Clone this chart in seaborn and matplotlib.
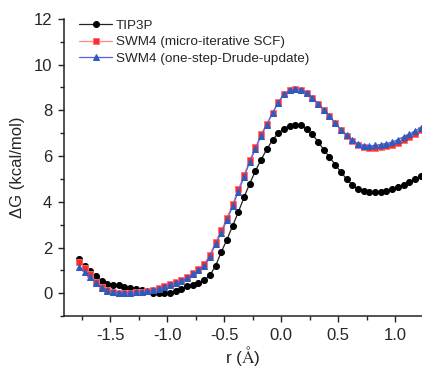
import numpy as np
import pandas as pd
import matplotlib
matplotlib.use("Agg")
import matplotlib.pyplot as plt
import seaborn as sns
from matplotlib.ticker import MultipleLocator

r = [-1.775 + 0.05 * i for i in range(61)]
r = [round(v, 3) for v in r]

tip3p = [1.48, 1.19, 0.98, 0.75, 0.54, 0.42, 0.38, 0.34, 0.28, 0.23,
         0.19, 0.13, 0.09, 0.03, -0.01, -0.01, 0.03, 0.10, 0.20, 0.30,
         0.37, 0.45, 0.57, 0.78, 1.20, 1.80, 2.35, 2.95, 3.55, 4.20,
         4.80, 5.35, 5.85, 6.30, 6.70, 7.00, 7.20, 7.33, 7.38, 7.34,
         7.18, 6.95, 6.62, 6.28, 5.95, 5.63, 5.30, 5.00, 4.73, 4.56,
         4.47, 4.43, 4.42, 4.44, 4.48, 4.55, 4.64, 4.75, 4.88, 5.01,
         5.12]

swm4_scf = [1.38, 1.10, 0.82, 0.50, 0.28, 0.12, 0.05, 0.02, -0.01, 0.01,
            0.04, 0.07, 0.11, 0.16, 0.23, 0.30, 0.40, 0.50, 0.60, 0.72,
            0.88, 1.05, 1.28, 1.68, 2.25, 2.75, 3.30, 3.90, 4.55, 5.18,
            5.82, 6.38, 6.95, 7.42, 7.90, 8.36, 8.72, 8.90, 8.94, 8.90,
            8.78, 8.56, 8.30, 8.02, 7.74, 7.44, 7.14, 6.90, 6.66, 6.47,
            6.40, 6.37, 6.37, 6.38, 6.42, 6.48, 6.58, 6.70, 6.83, 6.98,
            7.13]

swm4_drude = [1.16, 0.94, 0.72, 0.45, 0.25, 0.10, 0.06, 0.03, 0.01, 0.03,
              0.04, 0.06, 0.09, 0.13, 0.20, 0.28, 0.38, 0.45, 0.54, 0.67,
              0.82, 1.00, 1.20, 1.60, 2.15, 2.65, 3.20, 3.80, 4.45, 5.08,
              5.74, 6.31, 6.90, 7.38, 7.87, 8.34, 8.70, 8.88, 8.93, 8.90,
              8.78, 8.55, 8.30, 8.02, 7.75, 7.46, 7.16, 6.93, 6.70, 6.52,
              6.46, 6.45, 6.47, 6.50, 6.55, 6.61, 6.72, 6.84, 6.95, 7.09,
              7.24]

labels = ["TIP3P", "SWM4 (micro-iterative SCF)", "SWM4 (one-step-Drude-update)"]
x_ticks = [-1.5, -1.0, -0.5, 0.0, 0.5, 1.0]
y_ticks = [0, 2, 4, 6, 8, 10, 12]

sns.set_style("ticks")
plt.rcParams["font.family"] = ["Liberation Sans", "DejaVu Sans"]
plt.rcParams["axes.unicode_minus"] = False
plt.rcParams["mathtext.fontset"] = "stix"

fig = plt.figure(figsize=(4.22, 3.71), dpi=100)
ax = fig.add_axes([0.152, 0.148, 0.848, 0.801])

df_t = pd.DataFrame({"r": r, "dG": tip3p})
df_s = pd.DataFrame({"r": r, "dG": swm4_scf})
df_d = pd.DataFrame({"r": r, "dG": swm4_drude})

sns.lineplot(data=df_t, x="r", y="dG", ax=ax, color="#222222", lw=0.9,
             marker="o", markersize=4.3, markerfacecolor="black",
             markeredgecolor="black", label=labels[0], zorder=3)
sns.lineplot(data=df_s, x="r", y="dG", ax=ax, color="#ff8c80", lw=0.9,
             marker="s", markersize=3.8, markerfacecolor="#ff2a2a",
             markeredgecolor="#ff7070", markeredgewidth=0.6,
             label=labels[1], zorder=4)
sns.lineplot(data=df_d, x="r", y="dG", ax=ax, color="#5a5ee0", lw=0.9,
             marker="^", markersize=4.6, markerfacecolor="#2c5cc0",
             markeredgecolor="#2c5cc0", label=labels[2], zorder=5)

ax.set_xlim(-1.904, 1.237)
ax.set_ylim(-1, 12)
ax.set_xticks(x_ticks)
ax.set_xticklabels([f"{v:.1f}" for v in x_ticks])
ax.set_yticks(y_ticks)
ax.xaxis.set_minor_locator(MultipleLocator(0.25))
ax.yaxis.set_minor_locator(MultipleLocator(1))
ax.tick_params(which="major", direction="out", length=4.5, width=1.0,
               labelsize=12, color="#222222", pad=4)
ax.tick_params(which="minor", direction="out", length=3, width=1.0,
               color="#222222")
for s in ["top", "right"]:
    ax.spines[s].set_visible(False)
for s in ["left", "bottom"]:
    ax.spines[s].set_linewidth(1.1)
    ax.spines[s].set_color("#222222")

ax.set_xlabel(r"r ($\mathrm{\AA}$)", fontsize=12.5, labelpad=1)
ax.set_ylabel("\u0394G (kcal/mol)", fontsize=12, labelpad=6)

leg = ax.legend(loc="upper left", bbox_to_anchor=(0.02, 1.025), frameon=False,
                fontsize=9.7, handlelength=2.4, handletextpad=0.3,
                labelspacing=0.3, borderaxespad=0.2)

fig.savefig("out.png", dpi=100)
